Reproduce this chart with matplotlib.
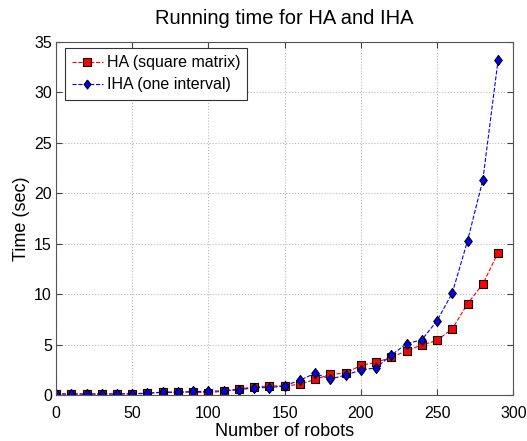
import matplotlib
matplotlib.use("Agg")
import matplotlib.pyplot as plt

robots = list(range(0, 300, 10))
ha = [0.1, 0.1, 0.1, 0.1, 0.1, 0.12, 0.2, 0.25, 0.3, 0.3, 0.2, 0.4, 0.6, 0.8, 0.9,
      0.9, 1.06, 1.55, 2.05, 2.17, 2.93, 3.24, 3.73, 4.39, 4.95, 5.42, 6.57, 9.05, 11.0, 14.1]
iha = [0.1, 0.1, 0.1, 0.1, 0.1, 0.12, 0.15, 0.3, 0.25, 0.35, 0.35, 0.43, 0.5, 0.73, 0.73,
       0.9, 1.48, 2.15, 1.58, 1.98, 2.47, 2.7, 3.96, 5.08, 5.48, 7.36, 10.13, 15.3, 21.3, 33.2]

plt.rcParams['font.family'] = ['Liberation Sans', 'DejaVu Sans']

fig = plt.figure(figsize=(5.27, 4.41), dpi=100)
ax = fig.add_axes([0.1063, 0.1043, 0.8677, 0.8005])

diamond = [(0, 1), (0.75, 0), (0, -1), (-0.75, 0), (0, 1)]

ax.plot(robots, ha, linestyle='--', color='red', linewidth=0.8, marker='s',
        markersize=6, markerfacecolor='red', markeredgecolor='black',
        markeredgewidth=0.8, label='HA (square matrix)')
ax.plot(robots, iha, linestyle='--', color='blue', linewidth=0.8, marker=diamond,
        markersize=7.2, markerfacecolor='blue', markeredgecolor='black',
        markeredgewidth=0.8, label='IHA (one interval)')

ax.set_xlim(0, 300)
ax.set_ylim(0, 35)
ax.set_xticks(range(0, 301, 50))
ax.set_yticks(range(0, 36, 5))
ax.tick_params(direction='in', labelsize=11.5, length=4, top=True, right=True, color='#444444')
ax.tick_params(axis='x', pad=8)
ax.tick_params(axis='y', pad=3)
ax.grid(True, linestyle=':', color='#b8b8b8', linewidth=0.8)
for s in ax.spines.values():
    s.set_color('#555555')
    s.set_linewidth(0.8)

ax.set_title('Running time for HA and IHA', fontsize=14.5, pad=13)
ax.set_xlabel('Number of robots', fontsize=13, labelpad=1)
ax.set_ylabel('Time (sec)', fontsize=13, labelpad=3)

leg = ax.legend(loc='upper left', bbox_to_anchor=(0.0197, 0.983), borderaxespad=0,
                fontsize=11.5, fancybox=False, framealpha=1,
                edgecolor='#333333', handlelength=1.9, markerscale=0.9,
                handletextpad=0.25, borderpad=0.45, labelspacing=0.45)
leg.get_frame().set_linewidth(0.8)

fig.savefig('out.png', dpi=100)
